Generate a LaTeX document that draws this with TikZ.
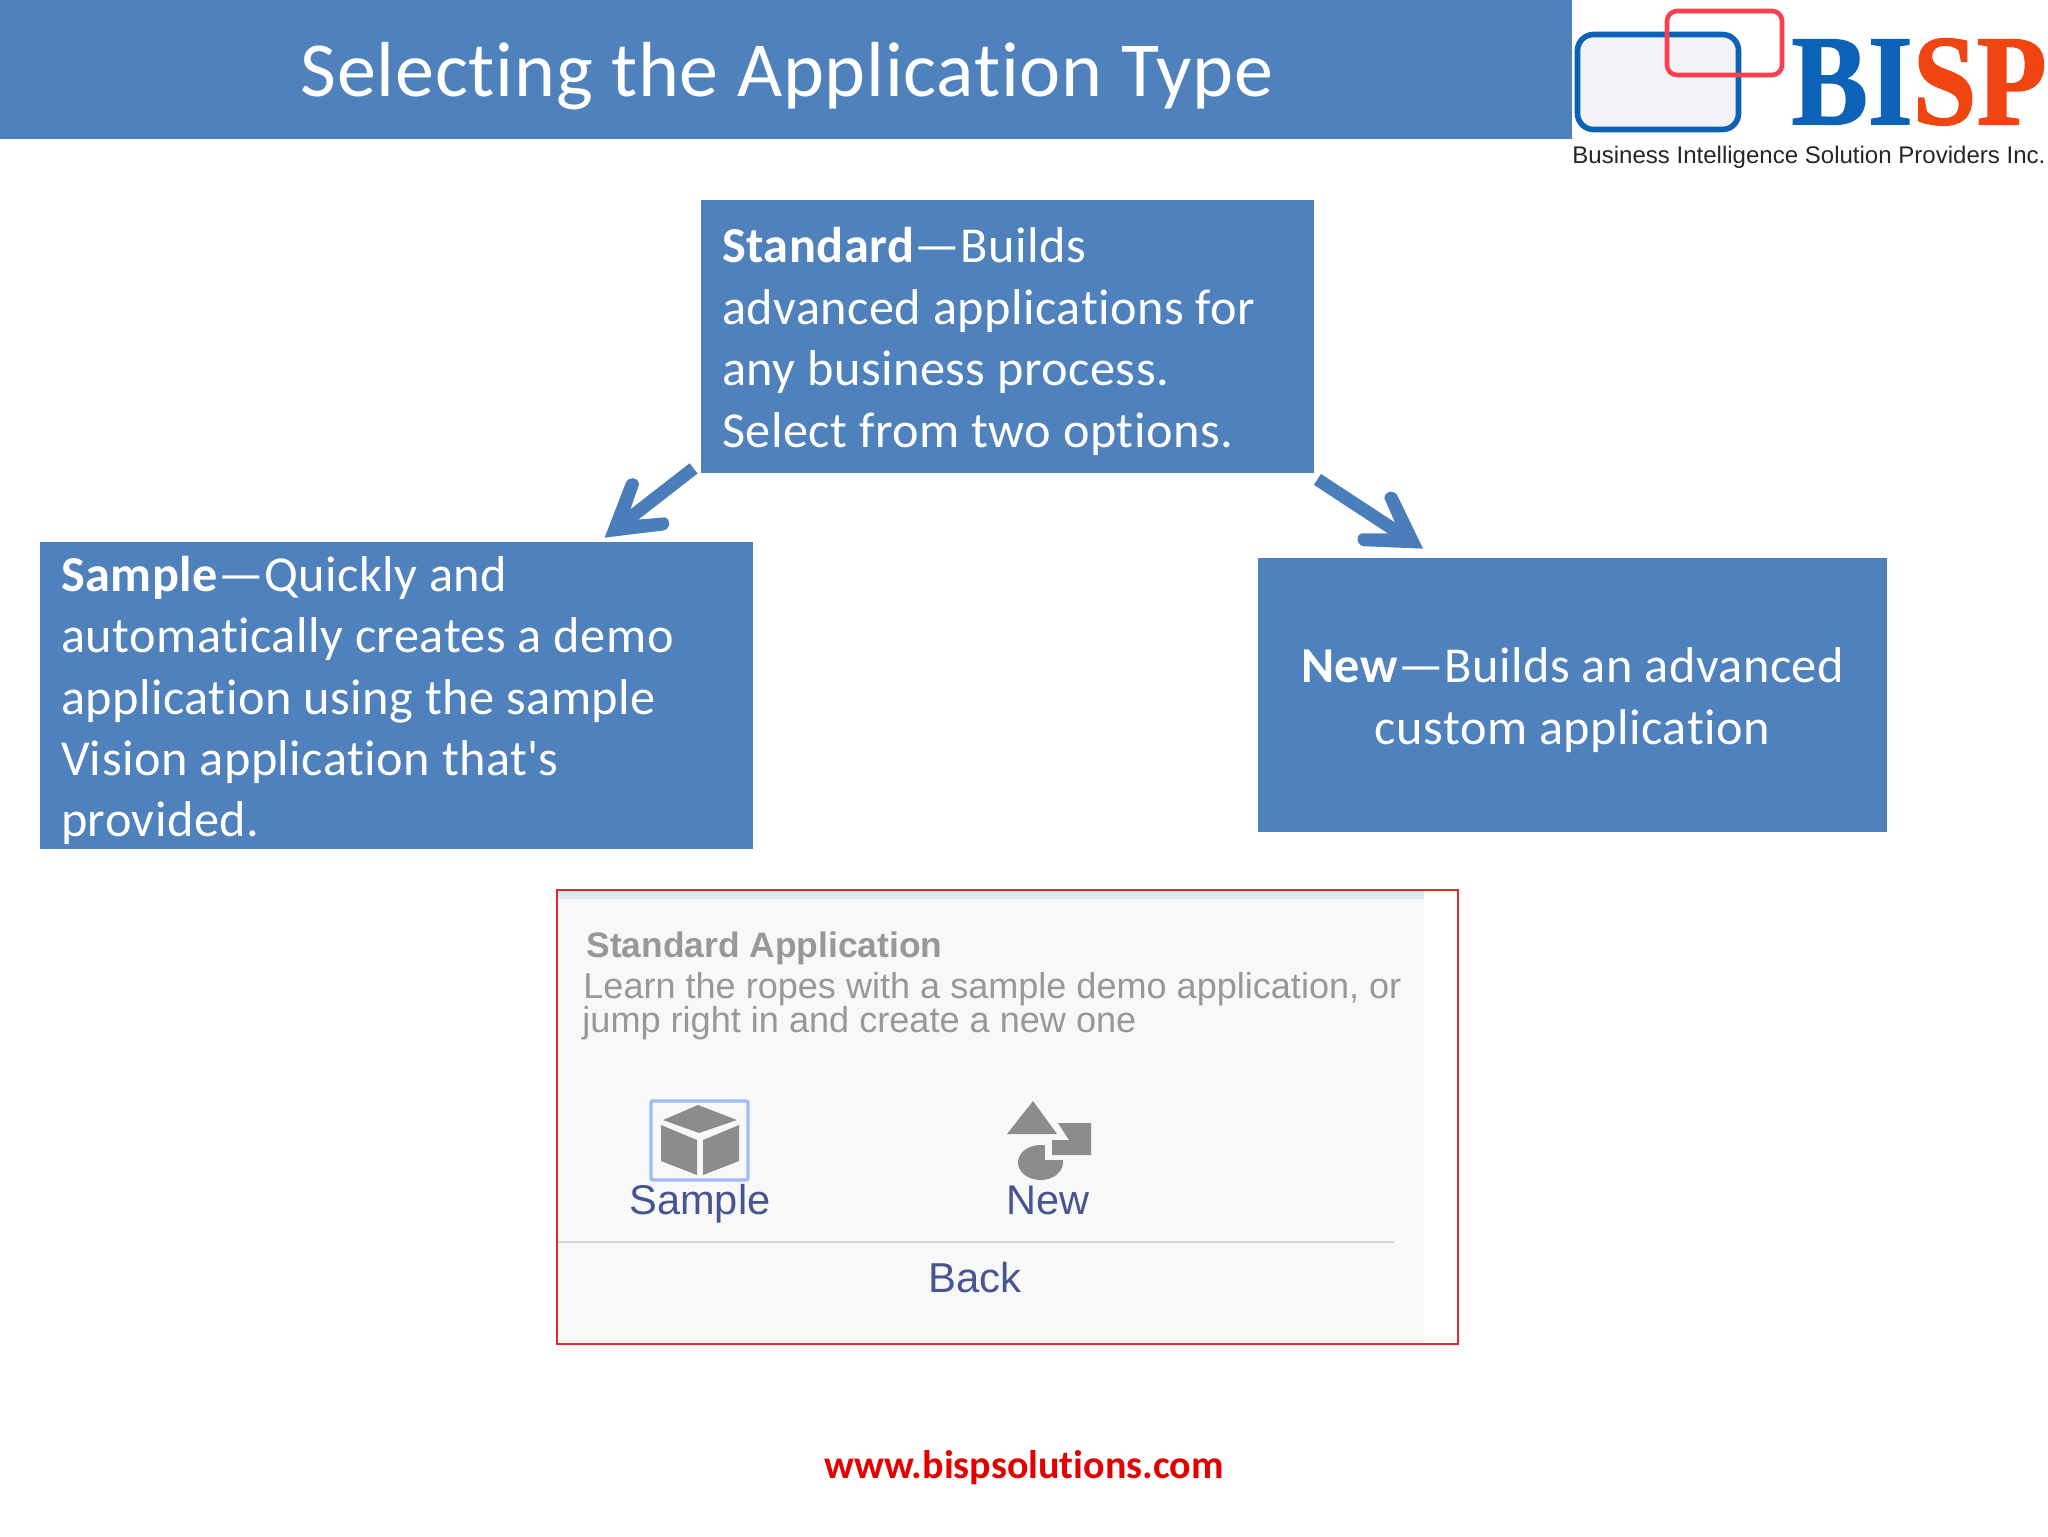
\documentclass[tikz,border=0pt]{standalone}
\usepackage{fontspec}
\setmainfont{Carlito}[Ligatures=NoCommon,LetterSpace=1.0]
\newfontfamily\plainfont{Carlito}[Ligatures=NoCommon]
\newfontfamily\shotfont{Liberation Sans}
\newfontfamily\logofont{Liberation Serif Bold}[FakeBold=1.2]
\usetikzlibrary{arrows.meta}
\definecolor{slideblue}{HTML}{4F81BD}
\definecolor{arrowblue}{HTML}{4A7EBB}
\definecolor{logoblue}{HTML}{0B62B6}
\definecolor{logoorange}{HTML}{F04510}
\definecolor{logored}{HTML}{FB3F4E}
\definecolor{logofill}{HTML}{F2F3F6}
\definecolor{shotbg}{HTML}{F8F8F9}
\definecolor{shotstrip}{HTML}{DCE9F3}
\definecolor{shotgray}{HTML}{8A8C8E}
\definecolor{shottext}{HTML}{989898}
\definecolor{shotlink}{HTML}{46558F}
\definecolor{shotframe}{HTML}{9DBCF5}
\definecolor{redframe}{HTML}{E02B2F}
\newcommand{\firstln}{\rule{0pt}{22.6pt}}
\pgfdeclarearrow{
  name=BlockBarb,
  setup code={\pgfarrowssettipend{0pt}\pgfarrowssetlineend{-12pt}\pgfarrowssetbackend{-30pt}\pgfarrowssetvisualbackend{-12pt}},
  drawing code={
    \pgfpathmoveto{\pgfqpoint{0pt}{0pt}}
    \pgfpathlineto{\pgfqpoint{-25pt}{15pt}}
    \pgfpathcurveto{\pgfqpoint{-28pt}{17pt}}{\pgfqpoint{-32pt}{14pt}}{\pgfqpoint{-30pt}{10.5pt}}
    \pgfpathlineto{\pgfqpoint{-18.5pt}{3pt}}
    \pgfpathlineto{\pgfqpoint{-18.5pt}{-3pt}}
    \pgfpathlineto{\pgfqpoint{-30pt}{-10.5pt}}
    \pgfpathcurveto{\pgfqpoint{-32pt}{-14pt}}{\pgfqpoint{-28pt}{-17pt}}{\pgfqpoint{-25pt}{-15pt}}
    \pgfpathclose
    \pgfusepathqfill
  }
}
\tikzset{
  x=0.5pt,y=-0.5pt,
  slidebox/.style={fill=slideblue,text=white,inner xsep=10.5pt,inner ysep=0pt,font=\fontsize{25.15}{30.7}\selectfont},
  connector/.style={color=arrowblue,line width=6.5pt,-{BlockBarb}},
  shottxt/.style={inner sep=0pt,anchor=base west,text=shottext,font=\shotfont\fontsize{16}{19}\selectfont},
  shotlbl/.style={inner sep=0pt,anchor=base west,text=shotlink,font=\shotfont\fontsize{18}{22}\selectfont},
}
\begin{document}
\begin{tikzpicture}
\useasboundingbox (0,0) rectangle (2048,1536);
\fill[white] (0,0) rectangle (2048,1536);
% header
\fill[slideblue] (0,0) rectangle (1572,139);
\node[inner sep=0pt,anchor=base,text=white,font=\fontsize{39}{46}\selectfont] (title) at (787,97) {Selecting the Application Type};
% logo
\draw[logoblue,fill=logofill,line width=2.8pt,rounded corners=8pt] (1577.5,34.5) rectangle (1738.5,129.5);
\draw[logored,line width=2.3pt,rounded corners=5pt] (1667,11) rectangle (1782,75);
\node[inner sep=0pt,anchor=base west] (logoword) at (1791,124) {\raisebox{0pt}[\height][0pt]{\scalebox{.89}[1]{\logofont\fontsize{64.5}{70}\selectfont\textcolor{logoblue}{BI}\textcolor{logoorange}{SP}}}};
\node[inner sep=0pt,anchor=base west,text=black!85] (logosub) at (1572,163) {\resizebox{236.5pt}{!}{\shotfont\fontsize{12}{14}\selectfont Business Intelligence Solution Providers Inc.}};
% boxes
\node[slidebox,text width=285.5pt,minimum height=136.5pt,align=flush left] (std) at (1007.5,336.5) {\firstln\textbf{Standard}—Builds\\advanced applications for\\any business process.\\Select from two options.};
\node[slidebox,text width=335.5pt,minimum height=153.5pt,align=flush left] (sample) at (396.5,695.5) {\firstln\textbf{Sample}—Quickly and\\automatically creates a demo\\application using the sample\\Vision application that{\plainfont'}s\\provided.};
\node[slidebox,text width=293.5pt,minimum height=137pt,align=flush center] (new) at (1572.5,695) {\firstln\textbf{New}—Builds an advanced\\custom application};
% connectors
\draw[connector] ([xshift=-3.5pt,yshift=2.5pt]std.south west) -- ([xshift=282.5pt,yshift=2pt]sample.north west);
\draw[connector] ([xshift=1.5pt,yshift=-3pt]std.south east) -- ([xshift=82.7pt,yshift=4.5pt]new.north west);
% screenshot
\fill[shotbg] (557,890) rectangle (1424,1344);
\fill[shotstrip] (557,890) rectangle (1424,899);
\draw[redframe,line width=1.1pt] (557,890) rectangle (1458,1344);
\draw[black!17,line width=1pt] (558,1242) -- (1394,1242);
\node[shottxt] (shead) at (586,957) {\resizebox{178pt}{!}{\shotfont\bfseries\fontsize{16}{19}\selectfont Standard Application}};
\node[shottxt] (sline1) at (583,998) {\resizebox{409pt}{!}{Learn the ropes with a sample demo application, or}};
\node[shottxt] (sline2) at (582,1032) {\resizebox{277pt}{!}{jump right in and create a new one}};
% sample icon
\draw[shotframe,line width=1.7pt,rounded corners=1pt] (651,1101) rectangle (748,1180);
\fill[shotgray] (698,1105) -- (737,1120) -- (699,1133) -- (663,1120) -- cycle;
\fill[shotgray] (661,1125) -- (697,1140) -- (697,1175) -- (661,1161) -- cycle;
\fill[shotgray] (703,1140) -- (739,1125) -- (739,1161) -- (703,1175) -- cycle;
% new icon
\fill[shotgray] (1040.5,1162.5) ellipse (22.5 and 17.5);
\fill[shotbg] (1045,1140) rectangle (1066,1159.5);
\fill[shotgray] (1033,1101) -- (1057,1134) -- (1007,1134) -- cycle;
\fill[shotgray] (1058,1123) -- (1091,1123) -- (1091,1155) -- (1052,1155) -- (1052,1140) -- (1069,1140) -- cycle;
\node[shotlbl] (slabel) at (629,1214) {\resizebox{70.5pt}{!}{Sample}};
\node[shotlbl] (nlabel) at (1006,1214) {\resizebox{41.5pt}{!}{New}};
\node[shotlbl] (blabel) at (928,1292) {\resizebox{46.5pt}{!}{Back}};
% footer
\node[inner sep=0pt,anchor=base,text=red!90!black,font=\plainfont\bfseries\fontsize{20}{24}\selectfont] (url) at (1024,1478) {www.bispsolutions.com};
\end{tikzpicture}
\end{document}
